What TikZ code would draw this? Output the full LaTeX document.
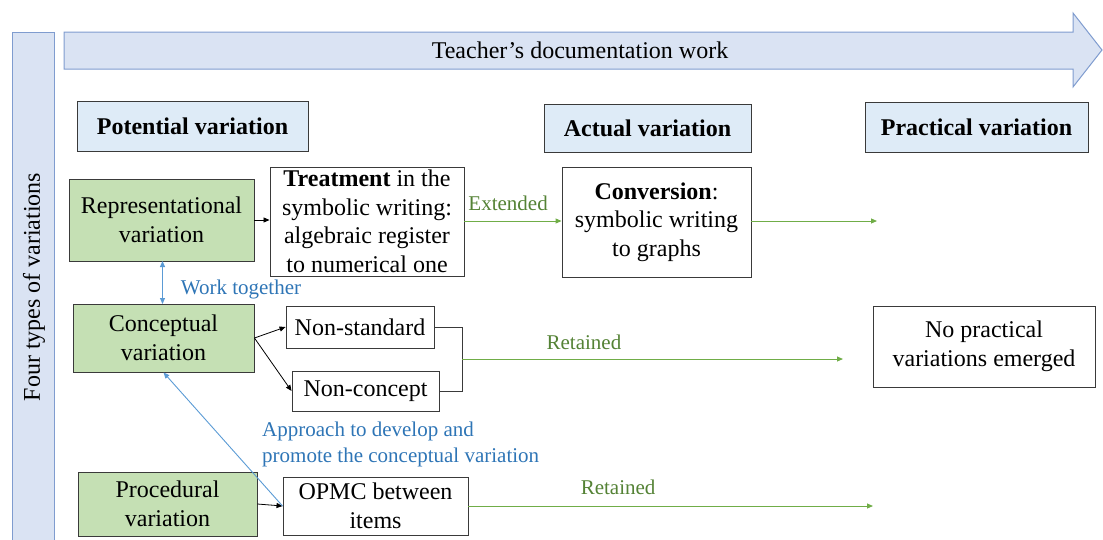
\documentclass[tikz,border=0pt]{standalone}
\usepackage{fontspec}
\setmainfont{Liberation Serif}
\usetikzlibrary{arrows.meta,calc}
\definecolor{barfill}{HTML}{DAE3F3}
\definecolor{barline}{HTML}{7F9CCF}
\definecolor{hdrfill}{HTML}{DEEBF7}
\definecolor{boxline}{HTML}{3A3A3A}
\definecolor{grfill}{HTML}{C5E0B4}
\definecolor{grline}{HTML}{70AD47}
\definecolor{grtext}{HTML}{548235}
\definecolor{blline}{HTML}{5B9BD5}
\definecolor{bltext}{HTML}{2E75B6}
\tikzset{
  x=1pt, y=-1pt,
  base/.style={draw=boxline, line width=0.9pt, inner sep=0pt, align=center,
    font=\fontsize{24}{28.5}\selectfont},
  hdrbox/.style={base, fill=hdrfill, font=\fontsize{24}{28.5}\selectfont\bfseries},
  greenbox/.style={base, fill=grfill},
  whitebox/.style={base, fill=white},
  lbl/.style={inner sep=0pt, font=\fontsize{21}{26}\selectfont},
  grlbl/.style={lbl, text=grtext},
  bllbl/.style={lbl, text=bltext, align=left},
  tip/.style={-{Triangle[length=6pt,width=5pt]}},
  blackarrow/.style={tip, draw=black, line width=0.8pt},
  greenarrow/.style={tip, draw=grline, line width=1pt},
  bluearrow/.style={draw=blline, line width=0.9pt},
}
\begin{document}
\begin{tikzpicture}
\useasboundingbox (0,0) rectangle (1103,539);
% left vertical bar
\fill[barfill] (12,32) rectangle (54,545);
\draw[barline, line width=1pt] (12,545) -- (12,32) -- (54,32) -- (54,545);
\node[rotate=90, inner sep=0pt, font=\fontsize{24}{28}\selectfont] (four) at (34,287) {Four types of variations};
% top arrow
\draw[barline, fill=barfill, line width=1pt]
  (64,32) -- (1073,32) -- (1073,13) -- (1102,50) -- (1073,87) -- (1073,69) -- (64,69) -- cycle;
\node[inner sep=0pt, font=\fontsize{24}{28}\selectfont] (teacher) at (580,50) {Teacher’s documentation work};
% headers
\node[hdrbox, minimum width=231pt, minimum height=50pt] (pot) at (192.5,126) {Potential variation};
\node[hdrbox, minimum width=207pt, minimum height=48pt] (act) at (647.5,128) {Actual variation};
\node[hdrbox, minimum width=223pt, minimum height=50pt] (pra) at (976.5,127) {Practical variation};
% boxes
\node[greenbox, minimum width=185pt, minimum height=82pt] (rep) at (161.5,220) {Representational\\variation};
\node[whitebox, minimum width=194pt, minimum height=109pt] (treat) at (367,221.5) {\textbf{Treatment} in the\\symbolic writing:\\algebraic register\\to numerical one};
\node[whitebox, minimum width=189pt, minimum height=110pt] (conv) at (656.5,222) {\textbf{Conversion}:\\symbolic writing\\to graphs};
\node[greenbox, minimum width=181pt, minimum height=68pt] (conc) at (163.5,338) {Conceptual\\variation};
\node[whitebox, minimum width=148pt, minimum height=42pt] (nonstd) at (360,327) {Non-standard};
\node[whitebox, minimum width=147pt, minimum height=40pt] (noncon) at (365.5,391) {Non-concept};
\node[whitebox, minimum width=222pt, minimum height=81pt] (nopr) at (984,346.5) {No practical\\variations emerged};
\node[greenbox, minimum width=179pt, minimum height=64pt] (proc) at (167.5,504) {Procedural\\variation};
\node[whitebox, minimum width=185pt, minimum height=58pt] (opmc) at (375.5,506) {OPMC between\\items};
% free ends
\coordinate (e1) at (877,221);
\coordinate (bk) at (462,359);
\coordinate (e2) at (843,359);
\coordinate (e3) at (873,506);
% connectors
\draw[blackarrow] (rep.east) -- (rep.east -| treat.west);
\draw[greenarrow] (treat.east |- 0,221) -- node[grlbl, pos=0.45, yshift=18pt] {Extended} (conv.west |- 0,221);
\draw[greenarrow] (conv.east |- e1) -- (e1);
\draw[bluearrow, {Triangle[length=6pt,width=5pt]}-{Triangle[length=6pt,width=5pt]}] (162.5,261) -- node[bllbl, anchor=west, xshift=18pt, yshift=-6.5pt] {Work together} (162.5,304);
\draw[blackarrow] (conc.east) -- (nonstd.west);
\draw[blackarrow] (conc.east) -- (noncon.west);
\draw[draw=boxline, line width=0.9pt] (nonstd.east) -- (bk |- nonstd.east) -- (bk |- noncon.east) -- (noncon.east);
\draw[greenarrow] (bk) -- node[grlbl, pos=0.32, yshift=17pt] {Retained} (e2);
\draw[blackarrow] (proc.east) -- (opmc.west);
\draw[bluearrow, tip] (opmc.west) -- (conc.south);
\node[bllbl, anchor=west] (applbl) at (262,444) {Approach to develop and\\promote the conceptual variation};
\draw[greenarrow] (opmc.east) -- node[grlbl, pos=0.37, yshift=19pt] {Retained} (e3);
\end{tikzpicture}
\end{document}
